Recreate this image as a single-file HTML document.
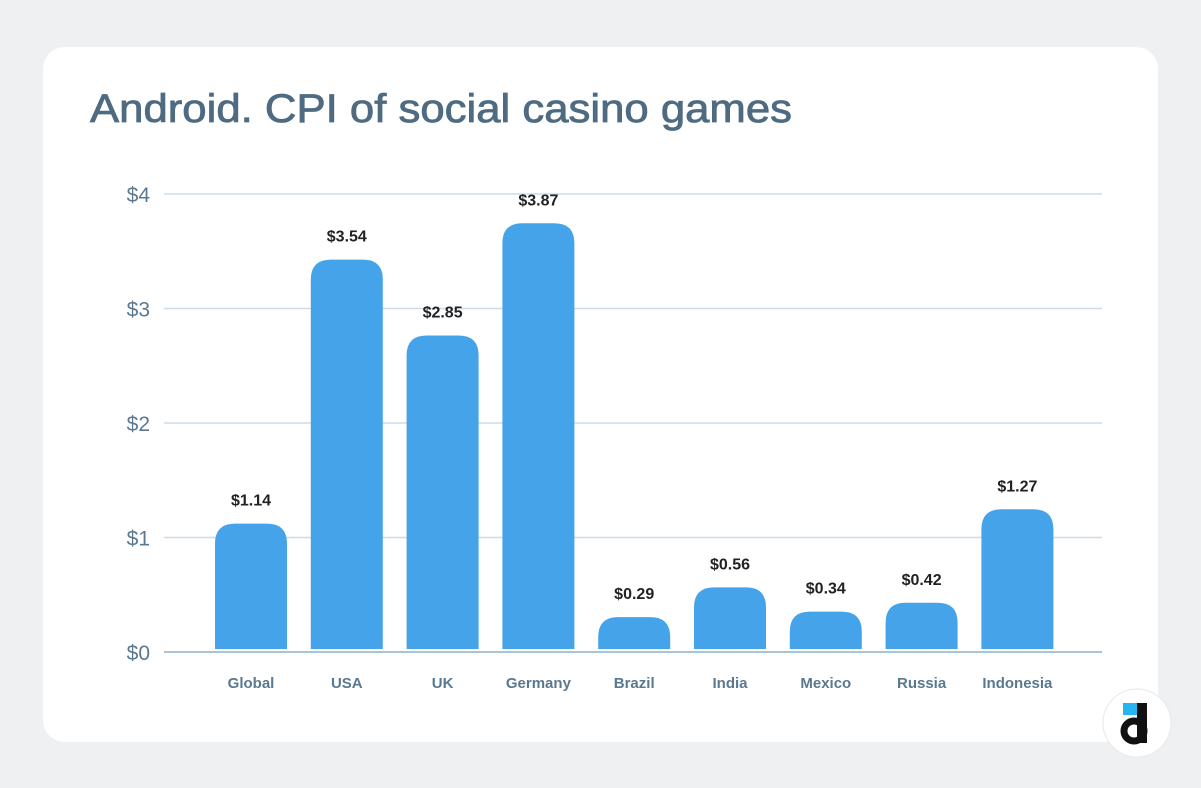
<!DOCTYPE html>
<html><head><meta charset="utf-8"><style>
html,body{margin:0;padding:0;background:#eef0f2;}
body{width:1201px;height:788px;overflow:hidden;position:relative;font-family:"Liberation Sans",Arial,sans-serif;}
.card{position:absolute;left:43px;top:47px;width:1115px;height:695px;background:#fff;border-radius:22px;}
svg{position:absolute;left:0;top:0;}
</style></head><body>
<div class="card"></div>
<svg id="chart" width="1201" height="788">
<text x="90" y="122" font-size="40" fill="#4f6b81" stroke="#4f6b81" stroke-width="0.8" textLength="702" lengthAdjust="spacingAndGlyphs">Android. CPI of social casino games</text>
<g id="grid"></g><g id="bars"></g>
<g>
<circle cx="1137" cy="723" r="34" fill="#fff" stroke="#e6e8ea"/>
<rect x="1123" y="703" width="14" height="12" fill="#25b5f0"/>
<rect x="1137" y="703" width="10" height="40" fill="#111"/>
<circle cx="1134" cy="731" r="10" fill="none" stroke="#111" stroke-width="7"/>
</g>
</svg>
<script>
const categories=["Global","USA","UK","Germany","Brazil","India","Mexico","Russia","Indonesia"];
const values=[1.14,3.54,2.85,3.87,0.29,0.56,0.34,0.42,1.27];
const valueLabels=["$1.14","$3.54","$2.85","$3.87","$0.29","$0.56","$0.34","$0.42","$1.27"];
const ticks=[0,1,2,3,4];
const tickLabels=["$0","$1","$2","$3","$4"];
const NS="http://www.w3.org/2000/svg";
function mk(t,a,p){const e=document.createElementNS(NS,t);for(const k in a)e.setAttribute(k,a[k]);p.appendChild(e);return e;}
const tickY=v=>652-v*114.5;
const barY=v=>649-v*110;
const xPos=i=>215+i*95.8;
const bw=72,r=20;
const grid=document.getElementById('grid'),bars=document.getElementById('bars');
ticks.forEach((t,i)=>{
 const l=mk('line',{x1:164,x2:1102,y1:tickY(t),y2:tickY(t),stroke:t===0?'#a9c3d8':'#cddbe7','stroke-width':t===0?2:1.5},grid);
 
 
 const tx=mk('text',{x:150,y:tickY(t)+8,'text-anchor':'end','font-size':21,fill:'#5a7990'},grid);
 tx.textContent=tickLabels[i];
 
 
});
values.forEach((v,i)=>{
 const x=xPos(i),y=barY(v),b=649,rr=Math.min(r,(b-y));
 const p=mk('path',{d:`M${x},${b}V${y+rr}Q${x},${y} ${x+rr},${y}H${x+bw-rr}Q${x+bw},${y} ${x+bw},${y+rr}V${b}Z`,fill:'#45a3ea'},bars);
 
 
 const vl=mk('text',{x:x+bw/2,y:y-18,'text-anchor':'middle','font-size':16,'font-weight':'bold',fill:'#222'},bars);
 vl.textContent=valueLabels[i];
 
 
 const cl=mk('text',{x:x+bw/2,y:688,'text-anchor':'middle','font-size':15,'font-weight':'bold',fill:'#5a7990'},bars);
 cl.textContent=categories[i];
 
 
});
</script>
</body></html>
